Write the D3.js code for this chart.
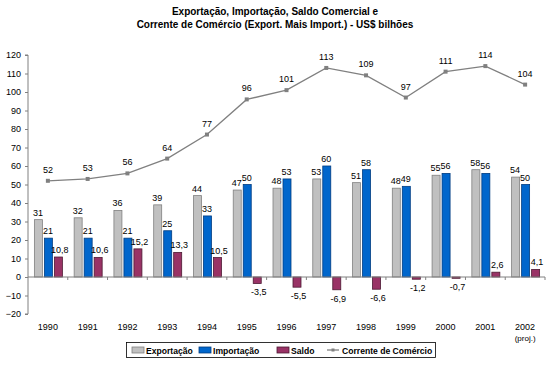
<!DOCTYPE html>
<html>
<head>
<meta charset="utf-8">
<script src="https://cdn.jsdelivr.net/npm/d3@7.9.0/dist/d3.min.js"></script>
<style>
  body { margin: 0; background: #fff; }
  text { font-family: "Liberation Sans", Arial, sans-serif; }
</style>
</head>
<body>
<svg width="550" height="365"></svg>
<script>
const years = ['1990', '1991', '1992', '1993', '1994', '1995', '1996', '1997', '1998', '1999', '2000', '2001', '2002'];
const exportacao = [31, 32, 36, 39, 44, 47, 48, 53, 51, 48, 55, 58, 54];
const importacao = [21, 21, 21, 25, 33, 50, 53, 60, 58, 49, 56, 56, 50];
const saldo = [10.8, 10.6, 15.2, 13.3, 10.5, -3.5, -5.5, -6.9, -6.6, -1.2, -0.7, 2.6, 4.1];
const corrente = [52, 53, 56, 64, 77, 96, 101, 113, 109, 97, 111, 114, 104];
const yTicks = [-20, -10, 0, 10, 20, 30, 40, 50, 60, 70, 80, 90, 100, 110, 120];

const svg = d3.select('svg');
const fmt = d => String(d).replace('.', ',');

let x = d3.scaleBand().domain(years).range([28, 545]);
let y = d3.scaleLinear().domain([-20, 120]).range([314, 55]);

// title
svg.append('text').attr('x', 275).attr('y', 15).attr('text-anchor', 'middle')
  .attr('font-size', 10).attr('font-weight', 'bold').text('Exportação, Importação, Saldo Comercial e');
svg.append('text').attr('x', 275).attr('y', 28).attr('text-anchor', 'middle')
  .attr('font-size', 10).attr('font-weight', 'bold').text('Corrente de Comércio (Export. Mais Import.) - US$ bilhões');

// y axis
let yAxis = d3.axisLeft(y).tickValues(yTicks).tickSize(3).tickPadding(4);
let gy = svg.append('g').attr('transform', 'translate(28,0)').call(yAxis);
gy.select('.domain').attr('stroke', '#808080').attr('d', `M-3,${y(120)}H0V${y(-20)}H-3`);
gy.selectAll('line').attr('stroke', '#808080');
gy.selectAll('text').attr('font-size', 9).attr('fill', '#000')
  .style('font-family', '"Liberation Sans", Arial, sans-serif');

const series = [
  { values: exportacao, fill: '#C0C0C0', stroke: '#808080' },
  { values: importacao, fill: '#0066CC', stroke: '#003c80' },
  { values: saldo, fill: '#993366', stroke: '#4d1a33' }
];
let bw = 8, step = 10;

series.forEach((s, si) => {
  let off = -14 + si * step;
  svg.append('g').selectAll('rect').data(s.values).join('rect')
    .attr('x', (d, i) => x(years[i]) + x.bandwidth() / 2 + off + 0.5)
    .attr('y', d => y(Math.max(0, d)))
    .attr('width', bw)
    .attr('height', d => Math.abs(y(d) - y(0)))
    .attr('fill', s.fill)
    .attr('stroke', s.stroke)
    .attr('stroke-width', 0.8);

  svg.append('g').selectAll('text').data(s.values).join('text')
    .attr('x', (d, i) => x(years[i]) + x.bandwidth() / 2 + off + bw / 2 + (si === 2 ? 2 : 0))
    .attr('y', d => d >= 0 ? y(d) - 4 : y(d) + 12)
    .attr('text-anchor', 'middle')
    .attr('font-size', 9)
    .text(d => fmt(d));
});

// x axis at zero
let xAxis = svg.append('g');
xAxis.append('line').attr('x1', 28).attr('x2', 545).attr('y1', y(0)).attr('y2', y(0)).attr('stroke', '#808080');
xAxis.selectAll('.tk').data(years).join('line')
  .attr('x1', (d, i) => 28 + x.step() * (i + 1)).attr('x2', (d, i) => 28 + x.step() * (i + 1))
  .attr('y1', y(0)).attr('y2', y(0) + 3).attr('stroke', '#808080');

svg.append('g').selectAll('text').data(years).join('text')
  .attr('x', d => x(d) + x.bandwidth() / 2)
  .attr('y', 330)
  .attr('text-anchor', 'middle')
  .attr('font-size', 9)
  .text(d => d);
svg.append('text').attr('x', x('2002') + x.bandwidth() / 2).attr('y', 341)
  .attr('text-anchor', 'middle').attr('font-size', 8).text('(proj.)');

// line
let line = d3.line().x((d, i) => x(years[i]) + x.bandwidth() / 2).y(d => y(d));
svg.append('path').datum(corrente).attr('d', line)
  .attr('fill', 'none').attr('stroke', '#808080').attr('stroke-width', 1.3);
svg.append('g').selectAll('rect').data(corrente).join('rect')
  .attr('x', (d, i) => x(years[i]) + x.bandwidth() / 2 - 2)
  .attr('y', d => y(d) - 2)
  .attr('width', 4).attr('height', 4).attr('fill', '#808080');
svg.append('g').selectAll('text').data(corrente).join('text')
  .attr('x', (d, i) => x(years[i]) + x.bandwidth() / 2)
  .attr('y', d => y(d) - 8)
  .attr('text-anchor', 'middle')
  .attr('font-size', 9)
  .text(d => d);

// legend
let lg = svg.append('g');
lg.append('rect').attr('x', 126.5).attr('y', 342.5).attr('width', 309).attr('height', 15)
  .attr('fill', '#fff').attr('stroke', '#000').attr('stroke-width', 0.8);
const legendItems = [
  { label: 'Exportação', fill: '#C0C0C0', stroke: '#808080', x: 132 },
  { label: 'Importação', fill: '#0066CC', stroke: '#003c80', x: 199 },
  { label: 'Saldo', fill: '#993366', stroke: '#4d1a33', x: 277 }
];
legendItems.forEach(it => {
  lg.append('rect').attr('x', it.x).attr('y', 347).attr('width', 12).attr('height', 6)
    .attr('fill', it.fill).attr('stroke', it.stroke).attr('stroke-width', 0.8);
  lg.append('text').attr('x', it.x + 14).attr('y', 353.5).attr('font-size', 8.6)
    .attr('font-weight', 'bold').text(it.label);
});
lg.append('line').attr('x1', 327).attr('x2', 339).attr('y1', 350).attr('y2', 350).attr('stroke', '#808080').attr('stroke-width', 1.3);
lg.append('rect').attr('x', 331.5).attr('y', 348.5).attr('width', 3).attr('height', 3).attr('fill', '#808080');
lg.append('text').attr('x', 342).attr('y', 353.5).attr('font-size', 8.6).attr('font-weight', 'bold').text('Corrente de Comércio');
</script>
</body>
</html>
